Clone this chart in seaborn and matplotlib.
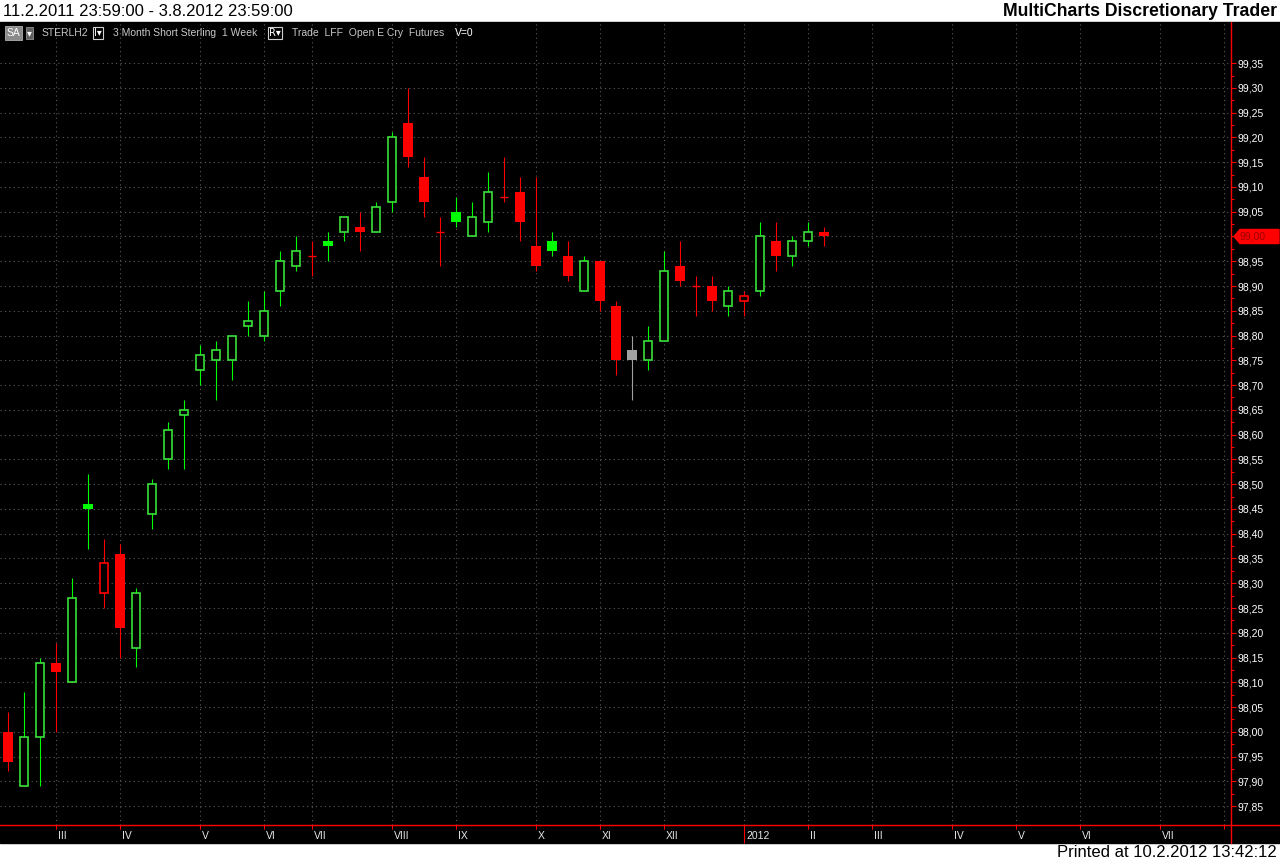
import numpy as np
import pandas as pd
import matplotlib
matplotlib.use("Agg")
from matplotlib import pyplot as plt
from matplotlib.lines import Line2D
from matplotlib.patches import Rectangle, Polygon
import matplotlib.transforms as mtransforms
import seaborn as sns

# weekly bars STERLH2 (3 Month Short Sterling), 11.2.2011 - 10.2.2012
opens = [98.00, 97.89, 97.99, 98.14, 98.10, 98.46, 98.28, 98.36, 98.17, 98.44,
         98.55, 98.64, 98.73, 98.75, 98.75, 98.82, 98.80, 98.89, 98.94, 98.96,
         98.99, 99.01, 99.02, 99.01, 99.07, 99.23, 99.12, 99.01, 99.05, 99.00,
         99.03, 99.08, 99.09, 98.98, 98.99, 98.96, 98.89, 98.95, 98.86, 98.77,
         98.75, 98.79, 98.94, 98.90, 98.90, 98.86, 98.87, 98.89, 98.99, 98.96,
         98.99, 99.01]
highs = [98.04, 98.08, 98.15, 98.18, 98.31, 98.52, 98.39, 98.38, 98.29, 98.51,
         98.625, 98.67, 98.78, 98.79, 98.80, 98.87, 98.89, 98.97, 99.00, 98.99,
         99.01, 99.04, 99.05, 99.07, 99.21, 99.30, 99.16, 99.04, 99.08, 99.07,
         99.13, 99.16, 99.12, 99.12, 99.01, 98.99, 98.96, 98.95, 98.87, 98.80,
         98.82, 98.97, 98.99, 98.92, 98.92, 98.90, 98.89, 99.03, 99.03, 99.00,
         99.03, 99.02]
lows = [97.92, 97.89, 97.89, 98.00, 98.10, 98.37, 98.25, 98.15, 98.13, 98.41,
        98.53, 98.53, 98.70, 98.67, 98.71, 98.80, 98.79, 98.86, 98.93, 98.92,
        98.95, 98.99, 98.97, 99.01, 99.05, 99.14, 99.04, 98.94, 99.02, 99.00,
        99.01, 99.07, 98.99, 98.93, 98.96, 98.91, 98.89, 98.85, 98.72, 98.67,
        98.73, 98.79, 98.90, 98.84, 98.85, 98.84, 98.84, 98.88, 98.93, 98.94,
        98.98, 98.98]
closes = [97.94, 97.99, 98.14, 98.12, 98.27, 98.45, 98.34, 98.21, 98.28, 98.50,
          98.61, 98.65, 98.76, 98.77, 98.80, 98.83, 98.85, 98.95, 98.97, 98.96,
          98.98, 99.04, 99.01, 99.06, 99.20, 99.16, 99.07, 99.01, 99.03, 99.04,
          99.09, 99.08, 99.03, 98.94, 98.97, 98.92, 98.95, 98.87, 98.75, 98.75,
          98.79, 98.93, 98.91, 98.90, 98.87, 98.89, 98.88, 99.00, 98.96, 98.99,
          99.01, 99.00]

# month ticks (bar index of first bar in month), axis runs on into the future
month_pos = [3, 7, 12, 16, 19, 24, 28, 33, 37, 41, 46, 50, 54, 59, 63, 67, 72, 76]
month_labels = ["III", "IV", "V", "VI", "VII", "VIII", "IX", "X", "XI", "XII",
                "2012", "II", "III", "IV", "V", "VI", "VII", ""]

price_ticks = np.round(np.arange(97.85, 99.351, 0.05), 2)
last_price = closes[-1]

df = pd.DataFrame({"open": opens, "high": highs, "low": lows, "close": closes})
df["bar"] = np.arange(len(df))
prev = df["close"].shift(1).fillna(df["open"])
df["dir"] = np.sign((df["close"] - prev).round(4))
df["filled"] = df["close"] < df["open"]
df["doji"] = (df["close"] - df["open"]).abs() < 1e-6

GREEN_FILL = "#00ff00"
GREEN_EDGE = "#3ae03a"
RED = "#ff0000"
GRAY = "#a0a0a0"

sns.set_theme(style="dark", rc={"axes.facecolor": "black", "figure.facecolor": "white",
                                "axes.edgecolor": "black"})
plt.rcParams["font.family"] = ["Liberation Sans", "DejaVu Sans"]

W, H = 1280, 863
fig = plt.figure(figsize=(W / 100, H / 100), dpi=100)
fig.patches.append(Rectangle((0, 20 / H), 1, 821 / H, transform=fig.transFigure,
                             color="black", zorder=-10))
ax = fig.add_axes([0, 38 / H, 1231 / W, (825 - 22) / H])
ax.set_facecolor("black")


def bar_color(d):
    if d > 0:
        return GREEN_FILL
    if d < 0:
        return RED
    return GRAY


for _, r in df.iterrows():
    col = bar_color(r["dir"])
    i = r["bar"]
    top = max(r["open"], r["close"])
    bot = min(r["open"], r["close"])
    ax.vlines(i, r["low"], r["high"], color=col, lw=0.8, zorder=2)
    if r["doji"]:
        ax.hlines(r["close"], i - 0.28, i + 0.28, color=col, lw=1.0, zorder=3)
    elif r["filled"]:
        ax.bar(i, top - bot, bottom=bot, width=0.58, color=col, lw=0, zorder=3)
    else:
        edge = GREEN_EDGE if col == GREEN_FILL else col
        ax.bar(i, top - bot, bottom=bot, width=0.5, facecolor="black",
               edgecolor=edge, lw=1.2, zorder=3)

ax.set_xlim(-0.5, (1231 - 8) / 16)
ax.set_ylim(97.812, 99.433)

# grid and ticks
ax.set_xticks(month_pos)
ax.set_xticklabels(month_labels)
ax.set_yticks(price_ticks)
# the last price tag covers its own grid label
ax.set_yticklabels(["" if abs(p - last_price) < 1e-6 else f"{p:.2f}".replace(".", ",")
                    for p in price_ticks])
ax.set_yticks(np.round(price_ticks[:-1] + 0.025, 3), minor=True)
ax.grid(True, which="major", color="#5c5c5c", lw=0.8, linestyle=(0, (1, 3)))
ax.yaxis.tick_right()
ax.tick_params(axis="y", which="major", colors=RED, labelcolor="white", length=3.5,
               width=0.8, pad=1.5, labelsize=7.5, right=True, left=False)
ax.tick_params(axis="y", which="minor", colors=RED, length=2, width=0.8, right=True, left=False)
ax.tick_params(axis="x", colors=RED, labelcolor="#e8e8e8", length=3, width=0.8,
               pad=1.5, labelsize=7.5, bottom=True)
offset = mtransforms.ScaledTranslation(0.02, 0, fig.dpi_scale_trans)
for lab in ax.get_xticklabels():
    lab.set_horizontalalignment("left")
    lab.set_transform(lab.get_transform() + offset)
for t, lab in zip(ax.xaxis.get_major_ticks(), month_labels):
    if lab.isdigit():
        t.tick1line.set_markersize(13)
for s in ax.spines.values():
    s.set_visible(False)

# red axis lines
fig.add_artist(Line2D([0, 1], [38 / H, 38 / H], color=RED, lw=1.0, transform=fig.transFigure))
fig.add_artist(Line2D([1231 / W, 1231 / W], [20 / H, (H - 22) / H], color=RED, lw=1.0,
                      transform=fig.transFigure))

# last price tag
tr = mtransforms.blended_transform_factory(fig.transFigure, ax.transData)
hh = 0.0142
tag = Polygon([(1234 / W, last_price), (1240 / W, last_price + hh), (1279 / W, last_price + hh),
               (1279 / W, last_price - hh), (1240 / W, last_price - hh)],
              closed=True, transform=tr, color=RED, clip_on=False, zorder=5)
fig.add_artist(tag)
fig.text(1240 / W, last_price, f"{last_price:.2f}".replace(".", ","), transform=tr,
         color="#9a0000", fontsize=7.5, va="center", ha="left", zorder=6)

# header / footer
fig.text(3 / W, 1 - 11 / H, "11.2.2011 23:59:00 - 3.8.2012 23:59:00", fontsize=12,
         color="black", va="center", ha="left")
fig.text(1277 / W, 1 - 11 / H, "MultiCharts Discretionary Trader", fontsize=12.7,
         fontweight="bold", color="black", va="center", ha="right")
fig.text(1277 / W, 1 - 852 / H, "Printed at 10.2.2012 13:42:12", fontsize=12,
         color="black", va="center", ha="right")

# info line
yi = 1 - 33 / H
fig.text(7 / W, yi, "SA", fontsize=7.5, color="white", va="center", ha="left",
         bbox=dict(boxstyle="square,pad=0.15", fc="#8a8a8a", ec="#b0b0b0", lw=0.6))
fig.text(27 / W, yi, "\u25be", fontsize=7, color="white", va="center", ha="left",
         family=["DejaVu Sans"],
         bbox=dict(boxstyle="square,pad=0.1", fc="#606060", ec="#909090", lw=0.6))
fig.text(42 / W, yi, "STERLH2", fontsize=7.5, color="#c8c8c8", va="center", ha="left")
fig.text(94 / W, yi, "I\u25be", fontsize=7, color="white", va="center", ha="left",
         family=["DejaVu Sans"],
         bbox=dict(boxstyle="square,pad=0.1", fc="black", ec="#d0d0d0", lw=0.8))
fig.text(113 / W, yi, "3 Month Short Sterling  1 Week", fontsize=7.5, color="#c8c8c8",
         va="center", ha="left")
fig.text(269 / W, yi, "R\u25be", fontsize=7, color="white", va="center", ha="left",
         family=["DejaVu Sans"],
         bbox=dict(boxstyle="square,pad=0.1", fc="black", ec="#d0d0d0", lw=0.8))
fig.text(292 / W, yi, "Trade  LFF  Open E Cry  Futures", fontsize=7.5, color="#c8c8c8",
         va="center", ha="left")
fig.text(455 / W, yi, "V=0", fontsize=7.5, color="white", va="center", ha="left")

fig.savefig("out.png", dpi=100, facecolor="white")
